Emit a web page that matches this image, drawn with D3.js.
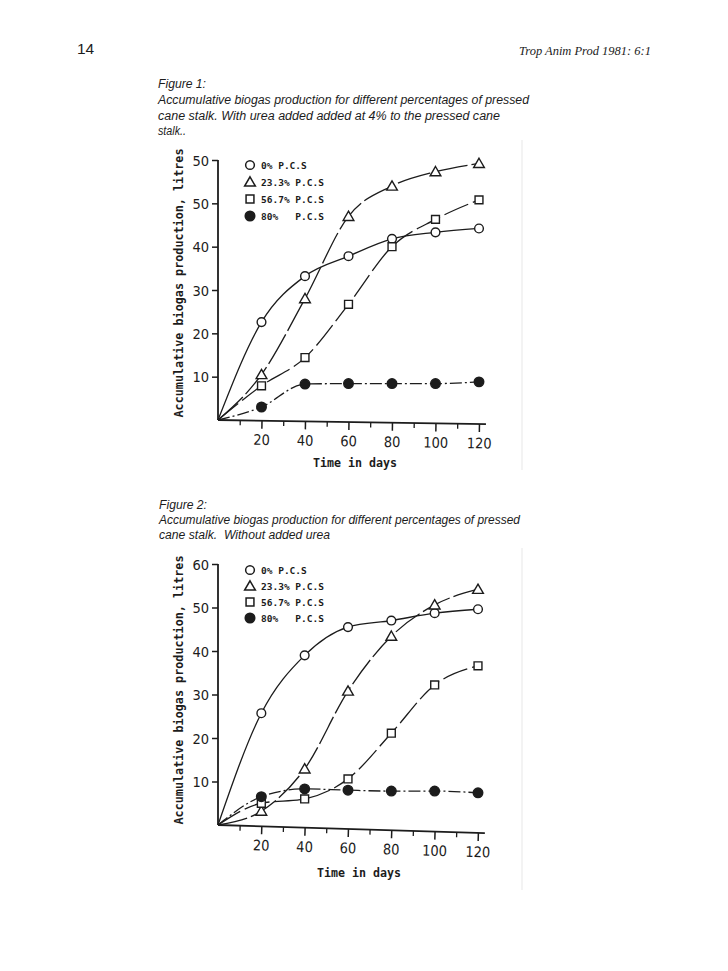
<!DOCTYPE html>
<html>
<head>
<meta charset="utf-8">
<script src="https://cdn.jsdelivr.net/npm/d3@7"></script>
<style>
  html, body { margin: 0; padding: 0; background: #fff; }
  svg { display: block; }
</style>
</head>
<body>
<script>
// ---------------- DATA ----------------
const days = [20, 40, 60, 80, 100, 120];
const seriesNames = ["0% P.C.S", "23.3% P.C.S", "56.7% P.C.S", "80%   P.C.S"];

// Figure 1: with urea added at 4%
const fig1_pcs0   = [22.6, 33.2, 37.8, 41.8, 43.3, 44.2];
const fig1_pcs233 = [10.5, 28.0, 47.0, 54.0, 57.3, 59.2];
const fig1_pcs567 = [7.9, 14.4, 26.7, 40.0, 46.3, 50.8];
const fig1_pcs80  = [3.0, 8.3, 8.4, 8.4, 8.4, 8.8];

// Figure 2: without added urea
const fig2_pcs0   = [25.7, 39.0, 45.5, 47.0, 48.7, 49.6];
const fig2_pcs233 = [3.2, 12.9, 30.8, 43.4, 50.6, 54.2];
const fig2_pcs567 = [5.0, 6.0, 10.6, 21.1, 32.2, 36.6];
const fig2_pcs80  = [6.5, 8.3, 8.0, 7.8, 7.8, 7.4];

const xTickValues = [20, 40, 60, 80, 100, 120];
const xMinorTicks = [10, 30, 50, 70, 90, 110];
const yTickValues = [10, 20, 30, 40, 50, 60];
const fig1_yTickLabels = ["10", "20", "30", "40", "50", "50"];
const fig2_yTickLabels = ["10", "20", "30", "40", "50", "60"];

const yAxisTitle = "Accumulative biogas production, litres";
const xAxisTitle = "Time in days";

const fig1_caption = [
  "Figure 1:",
  "Accumulative biogas production for different percentages of pressed",
  "cane stalk. With urea added added at 4% to the pressed cane",
  "stalk.."
];
const fig2_caption = [
  "Figure 2:",
  "Accumulative biogas production for different percentages of pressed",
  "cane stalk.  Without added urea"
];

// ---------------- DRAW ----------------
const W = 728, H = 971;
const ink = "#1c1c1c";
const svg = d3.select("body").append("svg").attr("width", W).attr("height", H);

// page header
svg.append("text").attr("x", 77).attr("y", 54)
  .attr("font-family", "Liberation Sans, Arial, sans-serif").attr("font-size", 15.5)
  .attr("fill", ink).text("14");
svg.append("text").attr("x", 651).attr("y", 55).attr("text-anchor", "end")
  .attr("font-family", "Liberation Serif, Times New Roman, serif").attr("font-style", "italic")
  .attr("font-size", 13).attr("fill", ink).attr("textLength", 132).attr("lengthAdjust", "spacingAndGlyphs")
  .text("Trop Anim Prod 1981: 6:1");

function caption(lines, x, baselines, widths) {
  lines.forEach((t, i) => {
    const el = svg.append("text").attr("x", x).attr("y", baselines[i])
      .attr("font-family", "Liberation Sans, Arial, sans-serif").attr("font-style", "italic")
      .attr("font-size", 12.5).attr("fill", ink)
      .style("white-space", "pre").text(t);
    if (widths[i]) el.attr("textLength", widths[i]).attr("lengthAdjust", "spacingAndGlyphs");
  });
}
caption(fig1_caption, 158, [88, 104, 120, 135], [48, 371, 342, 28]);
caption(fig2_caption, 159, [509, 524, 539], [48, 361, 171]);

// faint scan edges
svg.append("line").attr("x1", 522).attr("x2", 522).attr("y1", 140).attr("y2", 470)
  .attr("stroke", "#efefef").attr("stroke-width", 1.5);
svg.append("line").attr("x1", 522).attr("x2", 522).attr("y1", 548).attr("y2", 890)
  .attr("stroke", "#efefef").attr("stroke-width", 1.5);

const symbolTypes = [d3.symbolCircle, d3.symbolTriangle, d3.symbolSquare, d3.symbolCircle];
const symbolSizes = [60, 50, 62, 72];
const symbolFills = ["#fff", "#fff", "#fff", ink];

function drawFigure(cfg) {
  const x = d3.scaleLinear().domain([0, 120]).range([cfg.x0, cfg.x1]);
  const y = d3.scaleLinear().domain([0, 60]).range([cfg.y0, cfg.y1]);
  const g = svg.append("g");

  // y axis
  const yAxis = d3.axisLeft(y).tickValues(yTickValues)
    .tickFormat((d, i) => cfg.yLabels[i]).tickSize(6).tickPadding(3).tickSizeOuter(0);
  const ya = g.append("g").attr("transform", `translate(${cfg.x0},0)`).call(yAxis);
  ya.select(".domain").attr("stroke", ink).attr("stroke-width", 1.8)
    .attr("d", `M0,${cfg.y0}V${cfg.y1}`);
  ya.selectAll(".tick line").attr("stroke", ink).attr("stroke-width", 1.5);
  ya.selectAll(".tick text").attr("fill", ink)
    .attr("font-family", "Liberation Sans Narrow, DejaVu Sans Condensed, sans-serif")
    .attr("font-size", 14.5).attr("dy", "0.36em");

  // x axis (slightly tilted, as in the scan)
  const xg = g.append("g").attr("transform", `rotate(${cfg.tilt},${cfg.x0},${cfg.y0})`);
  const xAxis = d3.axisBottom(x).tickValues(xTickValues).tickSize(8).tickPadding(6).tickSizeOuter(0);
  const xa = xg.append("g").attr("transform", `translate(0,${cfg.y0})`).call(xAxis);
  xa.select(".domain").attr("stroke", ink).attr("stroke-width", 1.8)
    .attr("d", `M${cfg.x0},0H${cfg.x1 + 7}`);
  xa.selectAll(".tick line").attr("stroke", ink).attr("stroke-width", 1.5);
  xa.selectAll(".tick text").attr("fill", ink)
    .attr("font-family", "Liberation Sans Narrow, DejaVu Sans Condensed, sans-serif")
    .attr("font-size", 14.5);
  const xMinor = d3.axisBottom(x).tickValues(xMinorTicks).tickSize(5).tickFormat("");
  const xm = xg.append("g").attr("transform", `translate(0,${cfg.y0})`).call(xMinor);
  xm.select(".domain").remove();
  xm.selectAll(".tick line").attr("stroke", ink).attr("stroke-width", 1.3);

  // axis titles
  g.append("text")
    .attr("transform", `translate(${cfg.yTitleX},${cfg.yTitleY}) rotate(-90)`)
    .attr("text-anchor", "middle").attr("font-family", "DejaVu Sans Mono, monospace")
    .attr("font-weight", "bold").attr("font-size", 12.5).attr("fill", ink)
    .attr("textLength", 269).attr("lengthAdjust", "spacingAndGlyphs")
    .text(yAxisTitle);
  g.append("text").attr("x", cfg.xTitleX).attr("y", cfg.xTitleY)
    .attr("text-anchor", "middle").attr("font-family", "DejaVu Sans Mono, monospace")
    .attr("font-weight", "bold").attr("font-size", 12).attr("fill", ink)
    .attr("textLength", 84).attr("lengthAdjust", "spacingAndGlyphs")
    .text(xAxisTitle);

  // curves
  const line = d3.line().x(d => x(d[0])).y(d => y(d[1])).curve(d3.curveMonotoneX);
  cfg.series.forEach((vals, si) => {
    const pts = [[0, 0]].concat(days.map((d, i) => [d, vals[i]]));
    g.append("path").attr("d", line(pts)).attr("fill", "none")
      .attr("stroke", ink).attr("stroke-width", 1.3)
      .attr("stroke-dasharray", cfg.dashes[si]);
  });
  // markers
  cfg.series.forEach((vals, si) => {
    const sym = d3.symbol().type(symbolTypes[si]).size(symbolSizes[si]);
    g.selectAll(null).data(days.map((d, i) => [d, vals[i]])).join("path")
      .attr("d", sym)
      .attr("transform", d => `translate(${x(d[0])},${y(d[1]) + (si === 1 ? 1 : 0)})`)
      .attr("fill", symbolFills[si]).attr("stroke", ink).attr("stroke-width", 1.4);
  });

  // legend
  seriesNames.forEach((name, i) => {
    const ly = cfg.legendY[i];
    const sym = d3.symbol().type(symbolTypes[i]).size(symbolSizes[i]);
    g.append("path").attr("d", sym)
      .attr("transform", `translate(${cfg.legendX},${ly + (i === 1 ? 1 : 0)})`)
      .attr("fill", symbolFills[i]).attr("stroke", ink).attr("stroke-width", 1.5);
    g.append("text").attr("x", cfg.legendX + 11).attr("y", ly + 3.5)
      .attr("font-family", "DejaVu Sans Mono, monospace").attr("font-weight", "bold")
      .attr("font-size", 9.5).attr("fill", ink).style("white-space", "pre")
      .text(name);
  });
}

drawFigure({
  x0: 218, x1: 479, y0: 420, y1: 160, tilt: 0.9,
  yLabels: fig1_yTickLabels,
  series: [fig1_pcs0, fig1_pcs233, fig1_pcs567, fig1_pcs80],
  dashes: [null, "34,4", "26,5", "12,3,2,3"],
  legendX: 250, legendY: [165, 182, 199, 216],
  yTitleX: 183, yTitleY: 283, xTitleX: 355, xTitleY: 467
});

drawFigure({
  x0: 218, x1: 478, y0: 825, y1: 564, tilt: 1.75,
  yLabels: fig2_yTickLabels,
  series: [fig2_pcs0, fig2_pcs233, fig2_pcs567, fig2_pcs80],
  dashes: [null, "30,4", "26,5", "12,3,2,3"],
  legendX: 250, legendY: [570, 586, 602, 618],
  yTitleX: 183, yTitleY: 690, xTitleX: 359, xTitleY: 877
});
</script>
</body>
</html>
